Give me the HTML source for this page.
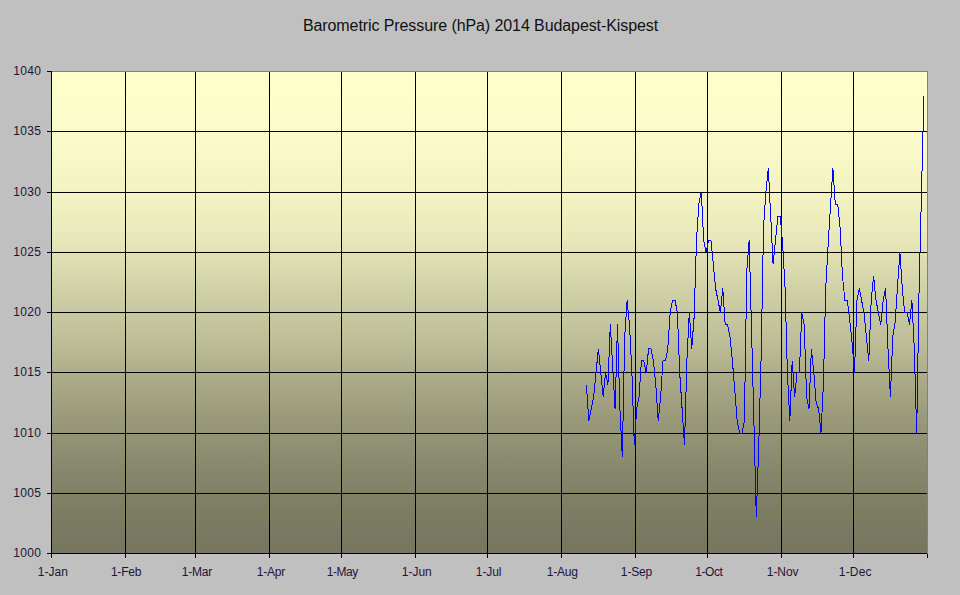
<!DOCTYPE html>
<html><head><meta charset="utf-8"><title>Barometric Pressure</title>
<style>
html,body{margin:0;padding:0;}
body{width:960px;height:595px;background:#c0c0c0;position:relative;overflow:hidden;font-family:"Liberation Sans",sans-serif;color:#1e1438;}
.l{position:absolute;background:#000;}
.g{position:absolute;background:#808080;}
#plot{position:absolute;left:52px;top:72px;width:875px;height:481px;background:linear-gradient(to bottom, rgb(255,255,204) 0.0%, rgb(251,251,201) 13.5%, rgb(245,245,196) 21.8%, rgb(242,242,194) 25.9%, rgb(232,232,186) 34.2%, rgb(206,206,165) 46.7%, rgb(191,191,153) 55.0%, rgb(170,170,136) 64.1%, rgb(153,153,122) 72.4%, rgb(145,145,116) 76.6%, rgb(132,132,106) 84.9%, rgb(125,125,100) 91.5%, rgb(118,118,94) 100.0%);}
#title{position:absolute;left:0.5px;top:16px;width:960px;text-align:center;font-size:16px;line-height:20px;white-space:nowrap;letter-spacing:-0.087px;color:#101014;}
.yl{position:absolute;left:0;width:41.2px;text-align:right;font-size:12px;line-height:14px;letter-spacing:0.33px;}
.xl{position:absolute;top:565px;white-space:nowrap;font-size:12px;line-height:14px;}
svg{position:absolute;left:0;top:0;}
</style></head><body>
<div id="title">Barometric Pressure (hPa) 2014 Budapest-Kispest</div>
<div id="plot"></div>

<div class="l" style="left:47px;top:131px;width:880px;height:1px"></div>
<div class="l" style="left:47px;top:192px;width:880px;height:1px"></div>
<div class="l" style="left:47px;top:252px;width:880px;height:1px"></div>
<div class="l" style="left:47px;top:312px;width:880px;height:1px"></div>
<div class="l" style="left:47px;top:372px;width:880px;height:1px"></div>
<div class="l" style="left:47px;top:433px;width:880px;height:1px"></div>
<div class="l" style="left:47px;top:493px;width:880px;height:1px"></div>
<div class="l" style="left:47px;top:71px;width:5px;height:1px"></div>
<div class="g" style="left:52px;top:71px;width:876px;height:1px"></div>
<div class="g" style="left:927px;top:71px;width:1px;height:483px;z-index:3"></div>
<div class="l" style="left:125px;top:72px;width:1px;height:486px"></div>
<div class="l" style="left:195px;top:72px;width:1px;height:486px"></div>
<div class="l" style="left:269px;top:72px;width:1px;height:486px"></div>
<div class="l" style="left:341px;top:72px;width:1px;height:486px"></div>
<div class="l" style="left:415px;top:72px;width:1px;height:486px"></div>
<div class="l" style="left:487px;top:72px;width:1px;height:486px"></div>
<div class="l" style="left:561px;top:72px;width:1px;height:486px"></div>
<div class="l" style="left:635px;top:72px;width:1px;height:486px"></div>
<div class="l" style="left:707px;top:72px;width:1px;height:486px"></div>
<div class="l" style="left:781px;top:72px;width:1px;height:486px"></div>
<div class="l" style="left:853px;top:72px;width:1px;height:486px"></div>
<div class="l" style="left:51px;top:71px;width:1px;height:487px"></div>
<div class="l" style="left:47px;top:553px;width:880px;height:1px"></div>
<div class="l" style="left:927px;top:554px;width:1px;height:4px"></div>
<div class="yl" style="top:64px">1040</div>
<div class="yl" style="top:124px">1035</div>
<div class="yl" style="top:185px">1030</div>
<div class="yl" style="top:245px">1025</div>
<div class="yl" style="top:305px">1020</div>
<div class="yl" style="top:365px">1015</div>
<div class="yl" style="top:426px">1010</div>
<div class="yl" style="top:486px">1005</div>
<div class="yl" style="top:546px">1000</div>
<div class="xl" style="left:37.86px;letter-spacing:0.00px">1-Jan</div>
<div class="xl" style="left:110.90px;letter-spacing:-0.20px">1-Feb</div>
<div class="xl" style="left:181.80px;letter-spacing:-0.25px">1-Mar</div>
<div class="xl" style="left:256.80px;letter-spacing:-0.25px">1-Apr</div>
<div class="xl" style="left:326.80px;letter-spacing:-0.45px">1-May</div>
<div class="xl" style="left:401.86px;letter-spacing:-0.05px">1-Jun</div>
<div class="xl" style="left:475.86px;letter-spacing:-0.10px">1-Jul</div>
<div class="xl" style="left:546.86px;letter-spacing:-0.25px">1-Aug</div>
<div class="xl" style="left:620.86px;letter-spacing:-0.15px">1-Sep</div>
<div class="xl" style="left:695.20px;letter-spacing:-0.40px">1-Oct</div>
<div class="xl" style="left:766.86px;letter-spacing:-0.10px">1-Nov</div>
<div class="xl" style="left:838.86px;letter-spacing:0.15px">1-Dec</div>
<svg width="960" height="595" viewBox="0 0 960 595"><polyline points="586.4,384.8 588.8,420.9 591.2,408.9 593.6,396.9 596.0,372.8 598.4,348.6 600.8,372.8 603.2,396.9 605.5,372.8 607.9,384.8 610.3,324.5 612.7,366.7 615.1,408.9 617.5,324.5 619.9,408.9 622.3,457.1 624.7,336.6 627.1,300.4 629.5,324.5 631.9,372.8 634.3,445.1 636.7,408.9 639.1,396.9 641.4,360.7 643.8,360.7 646.2,372.8 648.6,348.6 651.0,348.6 653.4,360.7 655.8,384.8 658.2,420.9 660.6,396.9 663.0,360.7 665.4,360.7 667.8,348.6 670.2,312.5 672.6,300.4 675.0,300.4 677.4,312.5 679.7,372.8 682.1,408.9 684.5,445.1 686.9,360.7 689.3,312.5 691.7,348.6 694.1,317.3 696.5,240.2 698.9,204.0 701.3,192.0 703.7,240.2 706.1,252.2 708.5,240.2 710.9,240.2 713.3,264.3 715.6,288.4 718.0,300.4 720.4,312.5 722.8,288.4 725.2,324.5 727.6,324.5 730.0,336.6 732.4,360.7 734.8,390.8 737.2,420.9 739.6,433.0 742.0,433.0 744.4,420.9 746.8,270.3 749.2,240.2 751.5,328.2 753.9,420.9 756.3,517.4 758.7,447.5 761.1,358.3 763.5,228.1 765.9,192.0 768.3,167.9 770.7,216.1 773.1,264.3 775.5,240.2 777.9,216.1 780.3,216.1 782.7,245.0 785.1,288.4 787.4,372.8 789.8,420.9 792.2,360.7 794.6,396.9 797.0,372.8 799.4,372.8 801.8,312.5 804.2,324.5 806.6,396.9 809.0,408.9 811.4,348.6 813.8,372.8 816.2,402.9 818.6,408.9 821.0,433.0 823.4,384.8 825.7,288.4 828.1,245.0 830.5,206.5 832.9,167.9 835.3,204.0 837.7,204.0 840.1,228.1 842.5,276.3 844.9,300.4 847.3,300.4 849.7,319.7 852.1,342.6 854.5,372.8 856.9,300.4 859.3,288.4 861.6,300.4 864.0,312.5 866.4,336.6 868.8,360.7 871.2,300.4 873.6,276.3 876.0,300.4 878.4,312.5 880.8,324.5 883.2,300.4 885.6,288.4 888.0,348.6 890.4,396.9 892.8,336.6 895.2,322.1 897.5,286.0 899.9,252.2 902.3,288.4 904.7,312.5 907.1,312.5 909.5,324.5 911.9,300.4 914.3,348.6 916.7,433.0 919.1,288.4 921.5,192.0 923.9,95.6" fill="none" stroke="#0000ff" stroke-width="1" shape-rendering="crispEdges" stroke-linejoin="miter"/></svg>
</body></html>
